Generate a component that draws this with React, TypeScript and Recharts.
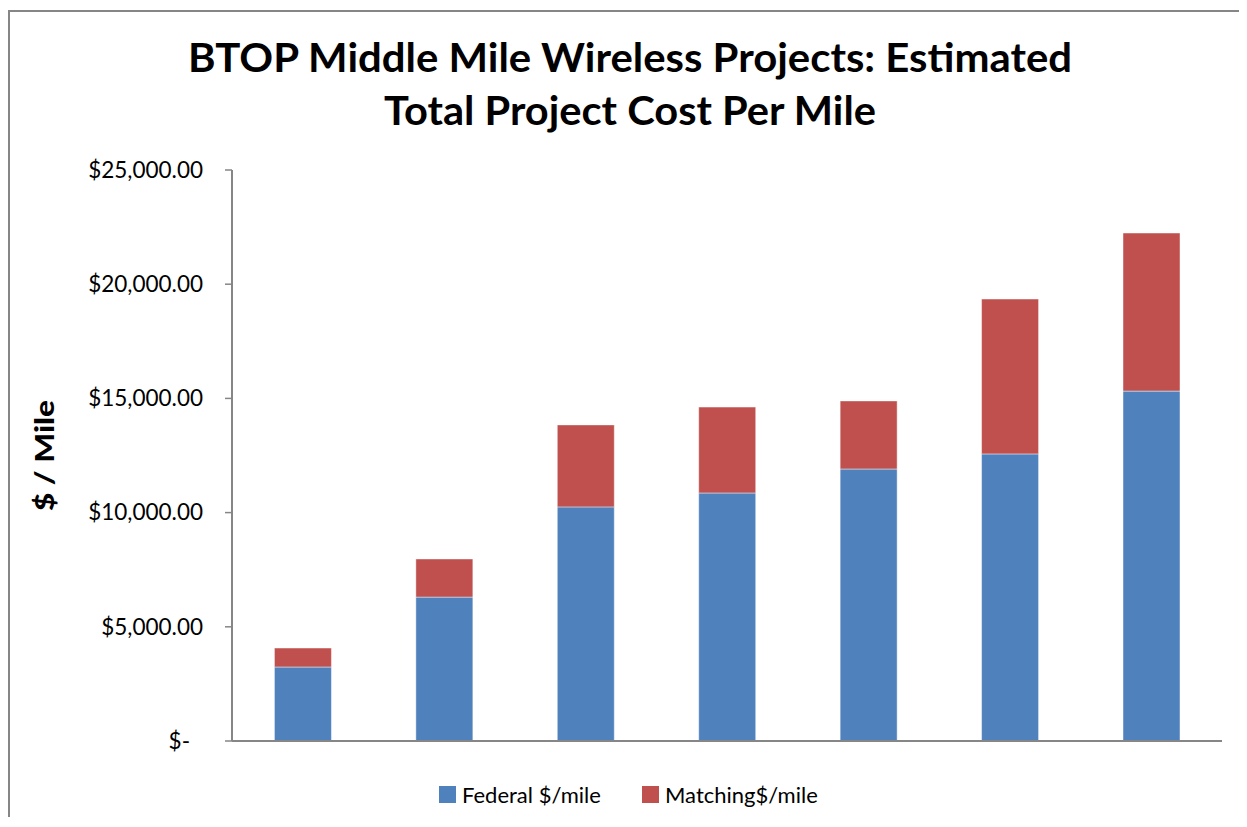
import React from "react"
import { Bar, BarChart, XAxis, YAxis } from "recharts"

// values ($ per mile)
const projects = ["P1", "P2", "P3", "P4", "P5", "P6", "P7"]
const federal = [3240, 6300, 10250, 10860, 11910, 12570, 15320]
const matching = [830, 1670, 3590, 3760, 2980, 6780, 6920]
const yTicks = [0, 5000, 10000, 15000, 20000, 25000]

const seriesInfo = [
  { key: "federal", name: "Federal $/mile", color: "#4F81BD", legendX: 429 },
  { key: "matching", name: "Matching$/mile", color: "#C0504D", legendX: 632 },
]

const data = projects.map((p, i) => ({
  name: p,
  federal: federal[i],
  matching: matching[i],
}))

const FONT = "Lato, 'Noto Sans', sans-serif"
const AXIS = "#868686"

const fmtMoney = (v: number) =>
  "$" + v.toLocaleString("en-US", { minimumFractionDigits: 2, maximumFractionDigits: 2 })

// Excel accounting style: zero shows as "$-"
function MoneyTick(props: any) {
  const { x, y, payload } = props
  const v = Number(payload.value)
  return (
    <text
      x={v === 0 ? x - 13 : x}
      y={y}
      dy="0.35em"
      textAnchor="end"
      fontFamily={FONT}
      fontSize={22.5}
      fill="#000"
    >
      {v === 0 ? "$-" : fmtMoney(v)}
    </text>
  )
}

export default function App() {
  return (
    <div
      style={{
        position: "relative",
        top: 2,
        width: 1237,
        height: 807,
        borderLeft: `2px solid ${AXIS}`,
        borderTop: `2px solid ${AXIS}`,
        fontFamily: FONT,
        background: "#fff",
      }}
    >
      <style>{"html,body{overflow:hidden}"}</style>
      <svg
        width={1237}
        height={140}
        style={{ position: "absolute", left: 0, top: 0, pointerEvents: "none" }}
      >
        <text
          x={620}
          y={60}
          textAnchor="middle"
          fontFamily={FONT}
          fontWeight={700}
          fontSize={40}
          textLength={884}
          lengthAdjust="spacingAndGlyphs"
        >
          BTOP Middle Mile Wireless Projects: Estimated
        </text>
        <text
          x={620}
          y={113}
          textAnchor="middle"
          fontFamily={FONT}
          fontWeight={700}
          fontSize={40}
          textLength={492}
          lengthAdjust="spacingAndGlyphs"
        >
          Total Project Cost Per Mile
        </text>
      </svg>

      <BarChart
        width={1237}
        height={807}
        data={data}
        margin={{ top: 158, right: 25, left: 10, bottom: 76 }}
        barCategoryGap="30%"
      >
        <XAxis
          dataKey="name"
          tick={false}
          tickLine={false}
          height={2}
          axisLine={{ stroke: AXIS, strokeWidth: 2 }}
        />
        <YAxis
          domain={[0, 25000]}
          ticks={yTicks}
          interval={0}
          width={212}
          tickSize={7}
          tickMargin={22}
          tick={<MoneyTick />}
          tickLine={{ stroke: AXIS, strokeWidth: 1.5 }}
          axisLine={{ stroke: AXIS, strokeWidth: 2 }}
          label={(props: any) => {
            const vb = props.viewBox
            const cy = vb.y + vb.height / 2
            return (
              <text
                x={44}
                y={cy}
                transform={`rotate(-90 44 ${cy})`}
                textAnchor="middle"
                fontFamily={FONT}
                fontWeight={900}
                fontSize={26}
                textLength={111}
                lengthAdjust="spacingAndGlyphs"
              >
                $ / Mile
              </text>
            )
          }}
        />
        {seriesInfo.map((s) => (
          <Bar
            key={s.key}
            dataKey={s.key}
            name={s.name}
            stackId="cost"
            fill={s.color}
            stroke="#ffffff"
            strokeOpacity={0.45}
            strokeWidth={1}
            isAnimationActive={false}
          />
        ))}
      </BarChart>

      {seriesInfo.map((s) => (
        <div
          key={s.key}
          style={{
            position: "absolute",
            left: s.legendX,
            top: 769,
            display: "flex",
            alignItems: "center",
            fontSize: 22,
            color: "#000",
            whiteSpace: "nowrap",
          }}
        >
          <span
            style={{
              display: "inline-block",
              width: 17,
              height: 17,
              background: s.color,
              marginRight: 6,
            }}
          />
          <span>{s.name}</span>
        </div>
      ))}
    </div>
  )
}
